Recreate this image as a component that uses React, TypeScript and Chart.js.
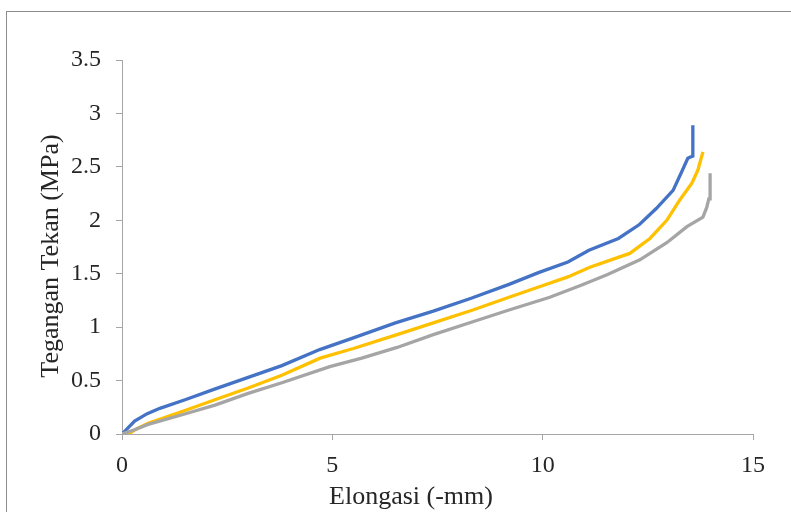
import React, { useEffect, useRef } from "react";
import { Chart, registerables } from "chart.js";

Chart.register(...registerables);

const blueX = [0, 0.3, 0.6, 0.9, 1.5, 2.2, 3.0, 3.8, 4.7, 5.5, 6.5, 7.4, 8.3, 9.2, 9.9, 10.6, 11.1, 11.8, 12.3, 12.7, 13.1, 13.3, 13.45, 13.5, 13.57, 13.57];
const blueY = [0, 0.12, 0.19, 0.24, 0.32, 0.42, 0.53, 0.64, 0.79, 0.9, 1.04, 1.15, 1.27, 1.4, 1.51, 1.61, 1.72, 1.83, 1.96, 2.11, 2.28, 2.45, 2.58, 2.59, 2.6, 2.89];

const yellowX = [0, 0.2, 0.31, 0.62, 1.43, 2.21, 3.0, 3.8, 4.71, 5.5, 6.54, 7.4, 8.34, 9.2, 9.94, 10.6, 11.12, 12.07, 12.55, 12.95, 13.26, 13.55, 13.69, 13.81];
const yellowY = [0, 0.01, 0.04, 0.1, 0.21, 0.32, 0.43, 0.55, 0.71, 0.8, 0.93, 1.04, 1.16, 1.28, 1.38, 1.47, 1.56, 1.69, 1.83, 2.0, 2.19, 2.35, 2.47, 2.64];

const grayX = [0, 0.3, 0.62, 1.43, 2.21, 3.0, 3.8, 4.94, 5.7, 6.54, 7.4, 8.34, 9.2, 10.17, 10.9, 11.53, 12.31, 12.95, 13.43, 13.81, 13.9, 13.95, 13.98, 13.98];
const grayY = [0, 0.04, 0.09, 0.18, 0.27, 0.38, 0.48, 0.63, 0.71, 0.81, 0.93, 1.05, 1.16, 1.28, 1.39, 1.49, 1.63, 1.79, 1.94, 2.03, 2.12, 2.2, 2.2, 2.44];

const xTitle = "Elongasi (-mm)";
const yTitle = "Tegangan Tekan (MPa)";

const toPoints = (xs: number[], ys: number[]) => xs.map((x, i) => ({ x, y: ys[i] }));

const FONT = "'Liberation Serif', 'Times New Roman', serif";
const AXIS = "#a6a6a6";

export default function App() {
  const ref = useRef<HTMLCanvasElement>(null);
  useEffect(() => {
    if (!ref.current) return;
    const titlePlugin = {
      id: "axisTitles",
      afterDraw(chart: any) {
        const ctx = chart.ctx;
        ctx.save();
        ctx.fillStyle = "#262626";
        ctx.font = `26px ${FONT}`;
        ctx.textAlign = "center";
        ctx.textBaseline = "alphabetic";
        ctx.fillText(xTitle, 411, 504);
        ctx.translate(58, 256);
        ctx.rotate(-Math.PI / 2);
        ctx.fillText(yTitle, 0, 0);
        ctx.restore();
      },
    };
    const chart = new Chart(ref.current, {
      type: "scatter",
      data: {
        datasets: [
          { data: toPoints(grayX, grayY), borderColor: "#a5a5a5", backgroundColor: "#a5a5a5" },
          { data: toPoints(yellowX, yellowY), borderColor: "#ffc000", backgroundColor: "#ffc000" },
          { data: toPoints(blueX, blueY), borderColor: "#4472c4", backgroundColor: "#4472c4" },
        ].map((d) => ({ ...d, showLine: true, pointRadius: 0, borderWidth: 3.3, tension: 0 })),
      },
      options: {
        animation: false,
        responsive: false,
        layout: { padding: { left: 0, top: 60, right: 38, bottom: 0 } },
        plugins: { legend: { display: false }, tooltip: { enabled: false } },
        scales: {
          x: {
            type: "linear",
            min: 0,
            max: 15,
            afterFit: (s: any) => { s.height = 78; },
            ticks: { stepSize: 5, color: "#262626", font: { family: FONT, size: 24 }, padding: 11, maxRotation: 0, callback: (v: any) => String(v) },
            grid: { drawOnChartArea: false, drawTicks: true, tickLength: 6, color: AXIS },
            border: { color: AXIS, width: 1 },
          },
          y: {
            type: "linear",
            min: 0,
            max: 3.5,
            afterFit: (s: any) => { s.width = 122; },
            ticks: { stepSize: 0.5, color: "#262626", font: { family: FONT, size: 24 }, padding: 15, callback: (v: any) => String(v) },
            grid: { drawOnChartArea: false, drawTicks: true, tickLength: 6, color: AXIS },
            border: { color: AXIS, width: 1 },
          },
        },
      },
      plugins: [titlePlugin],
    });
    return () => chart.destroy();
  }, []);
  return (
    <div style={{ position: "absolute", left: 0, top: 0, width: 791, height: 512, background: "#fff", overflow: "hidden" }}>
      <div style={{ position: "absolute", left: 6, top: 11, width: 800, height: 520, borderLeft: "1px solid #8c8c8c", borderTop: "1px solid #8c8c8c" }} />
      <canvas ref={ref} width={791} height={512} style={{ position: "absolute", left: 0, top: 0 }} />
    </div>
  );
}
